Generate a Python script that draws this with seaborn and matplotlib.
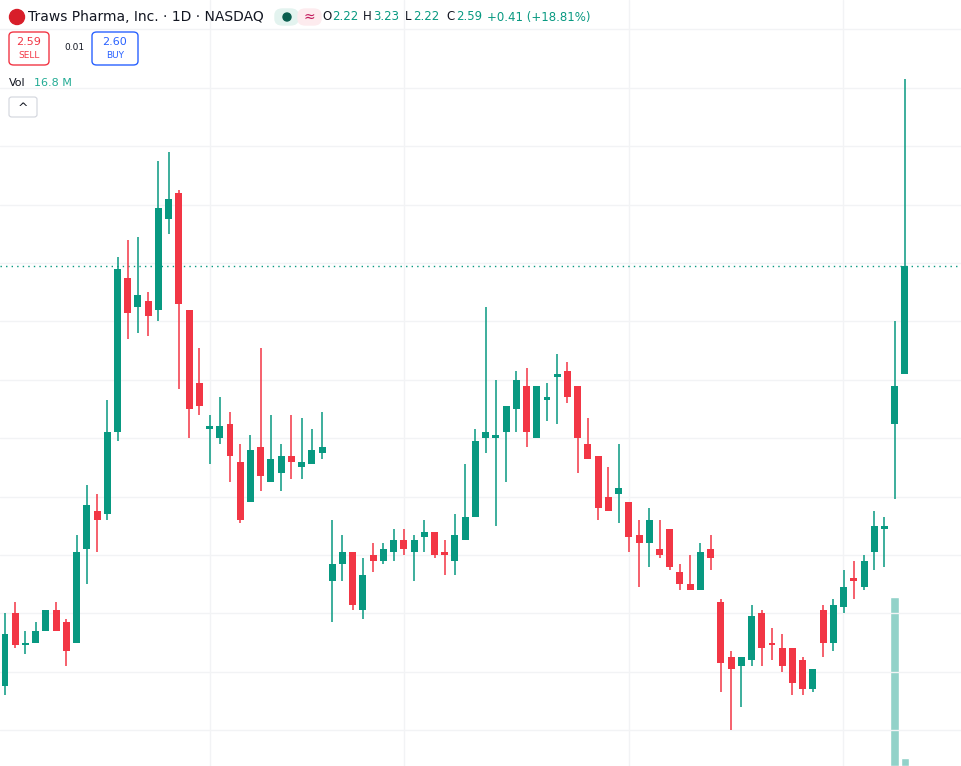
import matplotlib
matplotlib.use("Agg")
import matplotlib.pyplot as plt
from matplotlib.patches import FancyBboxPatch, Ellipse
import seaborn as sns
import numpy as np

opens = [1.15,1.40,1.29,1.30,1.34,1.41,1.37,1.30,1.62,1.75,1.74,2.02,2.55,2.45,2.47,2.44,2.75,2.84,2.44,2.19,
         2.03,2.00,2.05,1.92,1.78,1.97,1.85,1.88,1.94,1.90,1.91,1.95,1.51,1.57,1.61,1.41,1.60,1.58,1.61,1.65,
         1.61,1.66,1.68,1.61,1.58,1.65,1.73,2.00,2.00,2.02,2.10,2.18,2.00,2.13,2.21,2.23,2.18,1.98,1.94,1.80,
         1.81,1.78,1.67,1.64,1.62,1.69,1.54,1.50,1.48,1.62,1.44,1.25,1.22,1.24,1.40,1.30,1.28,1.28,1.24,1.14,
         1.41,1.30,1.42,1.52,1.49,1.61,1.69,2.05,2.22]
highs = [1.40,1.44,1.34,1.37,1.41,1.44,1.38,1.67,1.84,1.81,2.13,2.62,2.68,2.69,2.50,2.95,2.98,2.85,2.44,2.31,
         2.08,2.14,2.09,1.98,2.01,2.31,2.08,1.98,2.08,2.07,2.03,2.09,1.72,1.67,1.61,1.59,1.64,1.64,1.69,1.69,
         1.67,1.72,1.68,1.65,1.74,1.91,2.03,2.45,2.20,2.11,2.23,2.24,2.18,2.19,2.29,2.26,2.18,2.07,1.94,1.90,
         1.98,1.78,1.72,1.76,1.72,1.69,1.57,1.60,1.64,1.67,1.45,1.27,1.25,1.43,1.41,1.35,1.33,1.28,1.25,1.21,
         1.43,1.45,1.55,1.58,1.60,1.75,1.73,2.40,3.23]
lows = [1.12,1.28,1.26,1.30,1.34,1.34,1.22,1.30,1.50,1.61,1.72,1.99,2.34,2.36,2.35,2.40,2.70,2.17,2.00,2.08,
        1.91,1.98,1.85,1.71,1.78,1.82,1.85,1.82,1.86,1.86,1.91,1.93,1.37,1.51,1.41,1.38,1.54,1.57,1.58,1.60,
        1.51,1.61,1.59,1.53,1.53,1.65,1.73,1.95,1.70,1.85,2.02,1.97,2.00,2.06,2.05,2.12,1.88,1.93,1.72,1.75,
        1.71,1.61,1.49,1.56,1.59,1.55,1.48,1.48,1.48,1.55,1.13,1.00,1.08,1.22,1.22,1.24,1.20,1.12,1.12,1.13,
        1.25,1.27,1.40,1.45,1.48,1.55,1.56,1.79,2.22]
closes = [1.33,1.29,1.30,1.34,1.41,1.34,1.27,1.61,1.77,1.72,2.02,2.58,2.43,2.49,2.42,2.79,2.82,2.46,2.10,2.11,
          2.04,2.04,1.94,1.72,1.96,1.87,1.93,1.94,1.92,1.92,1.96,1.97,1.57,1.61,1.43,1.53,1.58,1.62,1.65,1.62,
          1.65,1.68,1.60,1.60,1.67,1.73,1.99,2.02,2.01,2.11,2.20,2.02,2.18,2.14,2.22,2.14,2.00,1.93,1.76,1.75,
          1.83,1.66,1.64,1.72,1.60,1.56,1.50,1.48,1.61,1.59,1.23,1.21,1.25,1.39,1.28,1.29,1.22,1.16,1.14,1.21,
          1.30,1.43,1.49,1.51,1.58,1.70,1.70,2.18,2.59]
volumes_m = [0.0]*87 + [370.0, 16.8]

GREEN = "#089981"
RED = "#F23645"

sns.set_style("white")
fig = plt.figure(figsize=(9.62, 7.66), dpi=100)
ax = fig.add_axes([0, 0, 1, 1])
n = len(opens)
idx = np.arange(n)

# volume pane
axv = ax.twinx()
sns.barplot(x=idx, y=volumes_m, native_scale=True, ax=axv, color="#92D2C9",
            width=0.85, saturation=1)
axv.set_ylim(0, volumes_m[-2] / (169 / 766))
axv.set_axis_off()

# grid
for p in np.arange(1.0, 3.5, 0.2):
    ax.axhline(p, color="#F2F3F5", lw=1, zorder=0)
for xv in [20.05, 39.0, 61.0, 81.9]:
    ax.axvline(xv, color="#F2F3F5", lw=1, zorder=0)

o = np.array(opens); h = np.array(highs); l = np.array(lows); c = np.array(closes)
cols = [GREEN if ci >= oi else RED for oi, ci in zip(o, c)]
ax.vlines(idx, l, h, colors=cols, lw=1.1, zorder=2)
bottom = np.minimum(o, c)
height = np.maximum(np.abs(c - o), 0.006)
ax.bar(idx, height, bottom=bottom, width=0.68, color=cols, zorder=3, linewidth=0)

ax.axhline(closes[-1], color=GREEN, lw=1, ls=(0, (1, 3)), zorder=1)

ax.set_xlim(-0.49, 93.58)
ax.set_ylim(0.877, 3.501)
ax.set_axis_off()
ax.set_zorder(axv.get_zorder() + 1)
ax.patch.set_visible(False)

# header
def P(x, y):
    return (x / 962, 1 - y / 766)

fig.patches.append(Ellipse(P(17, 17), 15 / 962, 15 / 766, transform=fig.transFigure,
                           color="#D81E2A", zorder=5))
fig.text(*P(17, 17), "ɑ", color="white", fontsize=7, ha="center", va="center")
fig.text(*P(28, 17), "Traws Pharma, Inc. · 1D · NASDAQ", fontsize=10, color="#131722", va="center")
fig.patches.append(FancyBboxPatch(P(275, 25), 23 / 962, 16 / 766, boxstyle="round,pad=0,rounding_size=0.008",
                                  transform=fig.transFigure, color="#E3F3EF"))
fig.patches.append(Ellipse(P(287, 17), 8 / 962, 8 / 766, transform=fig.transFigure, color="#0B5E4F"))
fig.patches.append(FancyBboxPatch(P(298, 25), 23 / 962, 16 / 766, boxstyle="round,pad=0,rounding_size=0.008",
                                  transform=fig.transFigure, color="#FDEBEE"))
fig.text(*P(309, 17), "≈", color="#C2185B", fontsize=10, ha="center", va="center")
segs = [(322, "O", "#131722"), (332, "2.22", GREEN), (363, "H", "#131722"), (373, "3.23", GREEN),
        (405, "L", "#131722"), (413, "2.22", GREEN), (446, "C", "#131722"), (456, "2.59", GREEN),
        (487, "+0.41 (+18.81%)", GREEN)]
for x, t, col in segs:
    fig.text(*P(x, 17), t, fontsize=8.5, color=col, va="center")

fig.patches.append(FancyBboxPatch(P(9, 65), 40 / 962, 33 / 766, boxstyle="round,pad=0,rounding_size=0.005",
                                  transform=fig.transFigure, fc="white", ec=RED, lw=1))
fig.text(*P(29, 42), "2.59", fontsize=8, color=RED, ha="center", va="center")
fig.text(*P(29, 56), "SELL", fontsize=6.5, color=RED, ha="center", va="center")
fig.text(*P(64, 48), "0.01", fontsize=6.5, color="#131722", va="center")
fig.patches.append(FancyBboxPatch(P(92, 65), 46 / 962, 33 / 766, boxstyle="round,pad=0,rounding_size=0.005",
                                  transform=fig.transFigure, fc="white", ec="#2962FF", lw=1))
fig.text(*P(115, 42), "2.60", fontsize=8, color="#2962FF", ha="center", va="center")
fig.text(*P(115, 56), "BUY", fontsize=6.5, color="#2962FF", ha="center", va="center")

fig.text(*P(9, 83), "Vol", fontsize=8, color="#131722", va="center")
fig.text(*P(34, 83), "16.8 M", fontsize=8, color="#22AB94", va="center")
fig.patches.append(FancyBboxPatch(P(9, 117), 28 / 962, 20 / 766, boxstyle="round,pad=0,rounding_size=0.003",
                                  transform=fig.transFigure, fc="white", ec="#D1D4DC", lw=0.8))
fig.text(*P(23, 108), "^", fontsize=9, color="#131722", ha="center", va="center")

fig.savefig("out.png", dpi=100)
